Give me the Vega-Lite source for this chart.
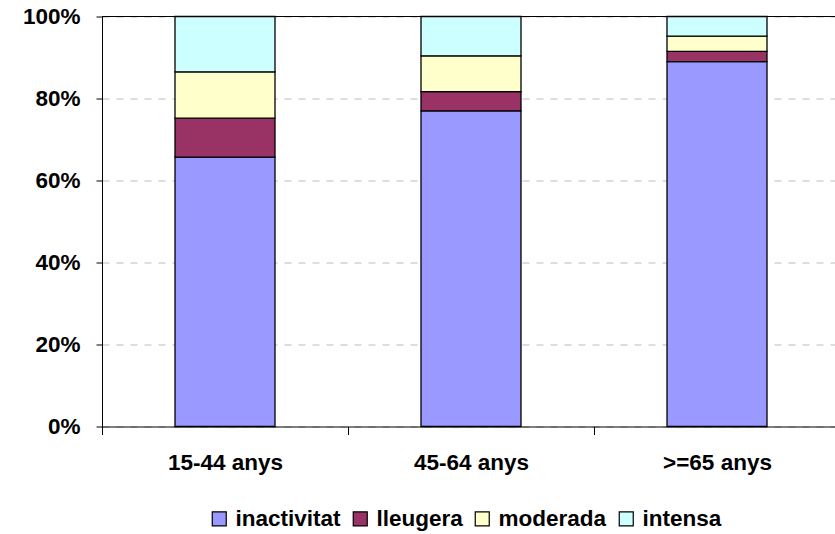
{
  "$schema": "https://vega.github.io/schema/vega-lite/v6.json",
  "width": 733,
  "height": 410,
  "autosize": {"type": "none"},
  "padding": {"left": 102, "top": 16.5, "right": 0, "bottom": 107.5},
  "config": {
    "view": {"stroke": null},
    "font": "Liberation Sans",
    "background": "white"
  },
  "data": {
    "values": [
      {"grup": "15-44 anys", "nivell": "inactivitat", "k": 1, "v": 65.7},
      {"grup": "15-44 anys", "nivell": "lleugera", "k": 2, "v": 9.5},
      {"grup": "15-44 anys", "nivell": "moderada", "k": 3, "v": 11.3},
      {"grup": "15-44 anys", "nivell": "intensa", "k": 4, "v": 13.5},
      {"grup": "45-64 anys", "nivell": "inactivitat", "k": 1, "v": 77.0},
      {"grup": "45-64 anys", "nivell": "lleugera", "k": 2, "v": 4.7},
      {"grup": "45-64 anys", "nivell": "moderada", "k": 3, "v": 8.7},
      {"grup": "45-64 anys", "nivell": "intensa", "k": 4, "v": 9.6},
      {"grup": ">=65 anys", "nivell": "inactivitat", "k": 1, "v": 89.0},
      {"grup": ">=65 anys", "nivell": "lleugera", "k": 2, "v": 2.5},
      {"grup": ">=65 anys", "nivell": "moderada", "k": 3, "v": 3.7},
      {"grup": ">=65 anys", "nivell": "intensa", "k": 4, "v": 4.8}
    ]
  },
  "layer": [
    {
      "mark": {"type": "bar", "width": 100, "stroke": "black", "strokeWidth": 1.3},
      "encoding": {
        "x": {
          "field": "grup",
          "type": "nominal",
          "sort": ["15-44 anys", "45-64 anys", ">=65 anys"],
          "scale": {"paddingInner": 0, "paddingOuter": 0, "range": [0, 738]},
          "axis": {
            "title": null,
            "labelAngle": 0,
            "labelFont": "Liberation Sans",
            "labelFontSize": 22.5,
            "labelFontWeight": "bold",
            "labelColor": "black",
            "labelPadding": 17,
            "domainColor": "black",
            "tickColor": "black",
            "tickSize": 8,
            "tickBand": "extent",
            "grid": false
          }
        },
        "y": {
          "field": "v",
          "type": "quantitative",
          "stack": "normalize",
          "scale": {"domain": [0, 1]},
          "axis": {
            "title": null,
            "format": ".0%",
            "values": [0, 0.2, 0.4, 0.6, 0.8, 1],
            "labelFont": "Liberation Sans",
            "labelFontSize": 22.5,
            "labelFontWeight": "bold",
            "labelColor": "black",
            "labelPadding": 16,
            "domainColor": "black",
            "tickColor": "black",
            "tickSize": 6,
            "grid": true,
            "gridColor": "#bbbbbb",
            "gridDash": [7, 7],
            "gridWidth": 1
          }
        },
        "color": {
          "field": "nivell",
          "type": "nominal",
          "scale": {
            "domain": ["inactivitat", "lleugera", "moderada", "intensa"],
            "range": ["#9999FF", "#993366", "#FFFFCC", "#CCFFFF"]
          },
          "legend": {
            "title": null,
            "orient": "none",
            "direction": "horizontal",
            "columns": 4,
            "legendX": 106,
            "legendY": 491,
            "symbolType": "square",
            "symbolSize": 196,
            "symbolStrokeColor": "black",
            "symbolStrokeWidth": 1.2,
            "symbolOpacity": 1,
            "labelFont": "Liberation Sans",
            "labelFontSize": 22.5,
            "labelFontWeight": "bold",
            "labelColor": "black",
            "labelOffset": 5,
            "columnPadding": 8
          }
        },
        "order": {"field": "k", "type": "quantitative", "sort": "ascending"}
      }
    },
    {
      "mark": {"type": "rule", "color": "black", "strokeWidth": 1},
      "encoding": {"y": {"datum": 1}}
    }
  ]
}
